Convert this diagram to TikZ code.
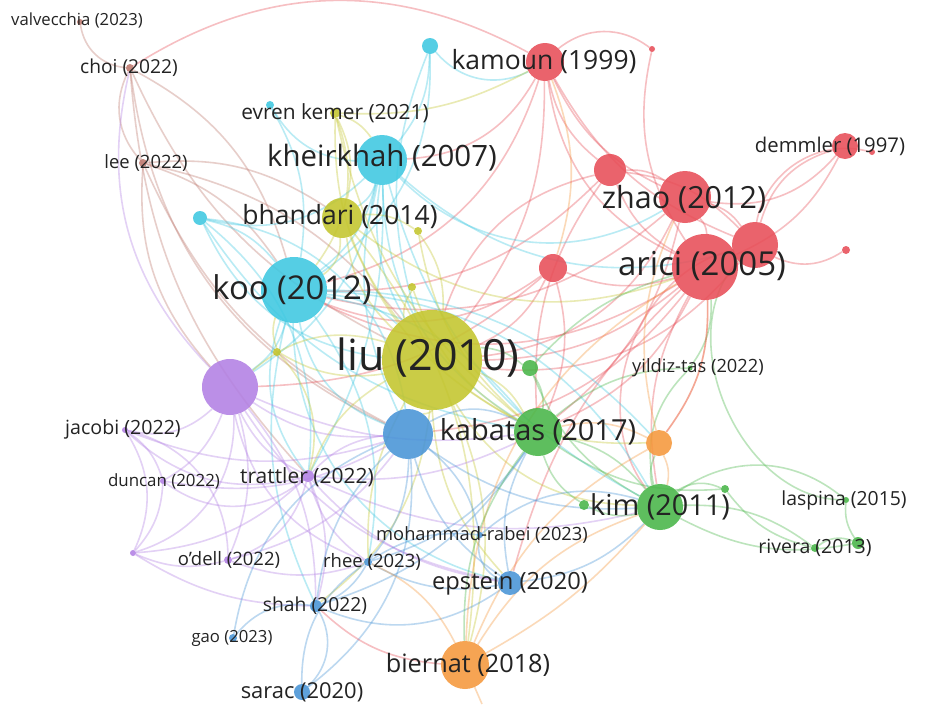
\documentclass[tikz,border=0pt]{standalone}
\usepackage{fontspec}
\setmainfont{Open Sans}
\pgfdeclarelayer{bg}
\pgfsetlayers{bg,main}
\definecolor{rd}{RGB}{232,78,88}
\definecolor{cy}{RGB}{62,200,225}
\definecolor{yl}{RGB}{195,197,45}
\definecolor{gr}{RGB}{72,182,72}
\definecolor{bl}{RGB}{72,148,215}
\definecolor{pu}{RGB}{178,128,228}
\definecolor{or}{RGB}{245,152,60}
\definecolor{br}{RGB}{190,120,110}
\definecolor{txt}{RGB}{35,35,35}
\begin{document}
\begin{tikzpicture}[x=1pt,y=-1pt,
 nd/.style={circle,fill=#1,draw=none,inner sep=0pt,fill opacity=0.88},
 lk/.style={line width=1.6pt,draw opacity=0.36},
 lb/.style={inner sep=0pt,text=txt,font=\fontsize{#1}{#1}\selectfont}]
\useasboundingbox (0,0) rectangle (933,704);
% nodes
\node[nd=br,minimum size=6] (valv) at (80,22) {};
\node[nd=br,minimum size=8] (choi) at (130,68) {};
\node[nd=br,minimum size=8] (lee) at (143,163) {};
\node[nd=cy,minimum size=8] (cyS) at (270,105) {};
\node[nd=yl,minimum size=10] (evren) at (335,113) {};
\node[nd=cy,minimum size=16] (cyT) at (430,46) {};
\node[nd=cy,minimum size=50] (kheir) at (382,160) {};
\node[nd=yl,minimum size=40] (bhan) at (342,218) {};
\node[nd=cy,minimum size=14] (cyL) at (200,218) {};
\node[nd=yl,minimum size=8] (ySm1) at (418,231) {};
\node[nd=rd,minimum size=38] (kamoun) at (545,62) {};
\node[nd=rd,minimum size=6] (rSm1) at (652,49) {};
\node[nd=rd,minimum size=32] (rA) at (610,170) {};
\node[nd=rd,minimum size=52] (zhao) at (685,197) {};
\node[nd=rd,minimum size=26] (demm) at (845,146) {};
\node[nd=rd,minimum size=6] (rSm2) at (872,152) {};
\node[nd=rd,minimum size=46] (rB) at (755,245) {};
\node[nd=rd,minimum size=66] (arici) at (705,267) {};
\node[nd=rd,minimum size=8] (rSm3) at (846,250) {};
\node[nd=rd,minimum size=28] (rC) at (553,268) {};
\node[nd=cy,minimum size=66] (koo) at (294,290) {};
\node[nd=yl,minimum size=8] (ySm2) at (412,287) {};
\node[nd=yl,minimum size=8] (ySm3) at (277,352) {};
\node[nd=yl,minimum size=100] (liu) at (432,360) {};
\node[nd=pu,minimum size=56] (purp) at (230,387) {};
\node[nd=gr,minimum size=16] (gSm1) at (530,368) {};
\node[nd=gr,minimum size=5] (yildiz) at (690,368) {};
\node[nd=pu,minimum size=6] (jacobi) at (125,430) {};
\node[nd=gr,minimum size=48] (kab) at (538,432) {};
\node[nd=bl,minimum size=50] (blue) at (408,434) {};
\node[nd=or,minimum size=26] (orange) at (659,443) {};
\node[nd=pu,minimum size=6] (duncan) at (163,481) {};
\node[nd=pu,minimum size=12] (trat) at (308,476) {};
\node[nd=gr,minimum size=10] (gSm2) at (584,505) {};
\node[nd=gr,minimum size=46] (kim) at (660,507) {};
\node[nd=gr,minimum size=8] (gSm3) at (725,489) {};
\node[nd=gr,minimum size=6] (laspina) at (846,500) {};
\node[nd=gr,minimum size=8] (rivera) at (815,548) {};
\node[nd=gr,minimum size=12] (gSm4) at (858,543) {};
\node[nd=bl,minimum size=6] (mrabei) at (480,535) {};
\node[nd=pu,minimum size=8] (odell) at (228,560) {};
\node[nd=pu,minimum size=6] (pSm) at (133,553) {};
\node[nd=bl,minimum size=8] (rhee) at (368,562) {};
\node[nd=bl,minimum size=24] (epstein) at (510,583) {};
\node[nd=bl,minimum size=12] (shah) at (316,606) {};
\node[nd=bl,minimum size=8] (gao) at (233,638) {};
\node[nd=or,minimum size=48] (biernat) at (465,665) {};
\node[nd=bl,minimum size=16] (sarac) at (302,692) {};
\coordinate (bot) at (482,704);
% links
\begin{pgfonlayer}{bg}
\fill[white] (0,0) rectangle (933,704);
\foreach \a/\b/\c/\d [evaluate=\d as \bb using 1.9*\d] in {
valv/choi/br/-20, choi/kamoun/rd/16, choi/lee/br/-18, choi/purp/pu/-15, choi/liu/br/-10,
choi/trat/br/-10, choi/blue/br/-15, choi/koo/br/12, lee/koo/br/10, lee/liu/br/10, lee/blue/br/-10, lee/bhan/br/10, lee/purp/br/-12,
kamoun/rA/rd/-10, kamoun/zhao/rd/-10, kamoun/arici/rd/-15, kamoun/rB/rd/-10, kamoun/rSm1/rd/20,
kamoun/kheir/rd/15, kamoun/koo/rd/15, kamoun/liu/rd/10, kamoun/rC/or/10, rSm1/arici/rd/-12,
rA/zhao/rd/10, rA/rB/rd/10, rA/arici/rd/-10, rA/liu/rd/-15, rA/kab/rd/-10, rA/koo/rd/12,
zhao/arici/rd/10, zhao/rB/rd/10, zhao/demm/rd/-15, zhao/liu/rd/15, zhao/kab/rd/10, zhao/koo/rd/14,
demm/rB/rd/-15, rSm2/rB/rd/-25, demm/arici/rd/10, rB/rSm3/rd/-15, rB/kim/rd/-30, rB/liu/rd/15,
rB/laspina/gr/-35, arici/liu/rd/10, arici/kab/rd/10, arici/kim/rd/-10, arici/orange/or/10,
arici/rC/rd/10, arici/koo/rd/15, arici/yildiz/gr/10, arici/blue/rd/12, arici/epstein/rd/-8,
rC/liu/rd/10, rC/kab/rd/10, rC/koo/rd/15, rC/purp/rd/10,
cyT/kheir/cy/10, cyT/koo/cy/15, cyT/kamoun/cy/-20, cyT/liu/cy/-10, cyS/kheir/cy/-15, cyS/koo/cy/10,
kheir/koo/cy/10, kheir/liu/cy/-10, kheir/bhan/cy/10, kheir/zhao/cy/-20, kheir/rB/cy/-15, kheir/cyL/cy/15,
kheir/blue/cy/-10, kheir/kab/cy/-15, kheir/purp/cy/12, kheir/trat/cy/8, kheir/kim/cy/-12,
cyL/koo/cy/10, cyL/liu/cy/-15, cyL/blue/cy/20, cyL/trat/cy/15, cyL/kab/cy/-12,
koo/liu/cy/10, koo/blue/cy/-15, koo/kab/cy/10, koo/purp/cy/10, koo/trat/cy/-15, koo/kim/cy/15,
koo/epstein/cy/-20, koo/rhee/cy/12, koo/shah/cy/-10, koo/orange/cy/12,
evren/kheir/yl/10, evren/liu/yl/-10, evren/bhan/yl/10, evren/koo/yl/15, evren/kamoun/yl/-8, evren/kab/yl/-10, bhan/liu/yl/-10,
bhan/koo/yl/15, bhan/kab/yl/-10, bhan/arici/yl/-15, bhan/ySm1/yl/10, bhan/biernat/yl/12, ySm1/liu/yl/10, ySm1/kab/yl/-10,
ySm2/liu/yl/-10, ySm2/kab/yl/-10, ySm3/koo/yl/10, ySm3/liu/yl/-10, ySm3/trat/yl/15, liu/kab/yl/10, liu/blue/yl/10,
liu/kim/yl/-15, liu/purp/yl/-15, liu/biernat/yl/10, liu/epstein/yl/-10, liu/trat/yl/-10, liu/rhee/yl/-8, liu/shah/yl/12, liu/orange/yl/-10,
purp/jacobi/pu/15, purp/duncan/pu/10, purp/trat/pu/-10, purp/odell/pu/10, purp/pSm/pu/20,
purp/blue/pu/-10, purp/rhee/pu/-15, purp/shah/pu/10, purp/kab/pu/-8, purp/epstein/pu/-12, jacobi/duncan/pu/10, jacobi/trat/pu/-15,
jacobi/pSm/pu/15, jacobi/odell/pu/20, jacobi/blue/pu/-10, duncan/trat/pu/-20, duncan/pSm/pu/10, duncan/blue/pu/-10, pSm/trat/pu/-10,
pSm/odell/pu/-10, pSm/shah/pu/-8, odell/trat/pu/-15, odell/rhee/pu/-10, odell/blue/pu/-10, trat/blue/pu/10, trat/rhee/pu/-10, trat/shah/pu/10,
trat/kab/pu/-8, trat/epstein/pu/-10, trat/kim/pu/-10,
blue/rhee/bl/10, blue/shah/bl/-10, blue/mrabei/bl/10, blue/epstein/bl/-10, blue/kab/bl/15,
blue/sarac/bl/15, blue/gao/bl/-15, blue/kim/bl/-10, rhee/shah/bl/10, rhee/epstein/bl/-10, rhee/mrabei/bl/10,
rhee/sarac/bl/-15, rhee/kab/bl/-10, shah/gao/bl/-15, shah/sarac/bl/20, shah/epstein/bl/-15, shah/kab/bl/-10, mrabei/kim/bl/15,
mrabei/epstein/bl/-20, epstein/kab/bl/10, epstein/kim/bl/-10,
gSm1/kab/gr/10, gSm1/liu/gr/-10, gSm1/kim/gr/-10, gSm1/arici/gr/8, kab/kim/gr/10, kab/gSm2/gr/-10,
kab/orange/or/10, kab/gSm3/gr/-10, kab/yildiz/gr/10, kim/gSm2/gr/10, kim/gSm3/gr/15,
kim/laspina/gr/20, kim/rivera/gr/10, kim/gSm4/gr/-10, kim/orange/gr/10, kim/yildiz/gr/15,
laspina/gSm4/gr/-10, rivera/gSm4/gr/15, gSm3/rivera/gr/-10,
biernat/kim/or/10, biernat/kim/or/-5, biernat/orange/or/10, biernat/arici/or/15,
biernat/rhee/or/-10, biernat/shah/rd/10, biernat/kab/gr/10, orange/zhao/or/10,
orange/arici/rd/-10, orange/kim/or/10, biernat/bot/or/0}
{\draw[lk,draw=\c] (\a) to[bend left=\bb] (\b);}
\end{pgfonlayer}
% labels
\node[lb=16.7] (t-valv) at (77,20) {valvecchia (2023)};
\node[lb=19.2] (t-choi) at (129,68) {choi (2022)};
\node[lb=18.4] (t-lee) at (146,163) {lee (2022)};
\node[lb=20.9] (t-evren) at (335,113) {evren kemer (2021)};
\node[lb=29.4] (t-kheir) at (382,158) {kheirkhah (2007)};
\node[lb=26.5] (t-bhan) at (340,217) {bhandari (2014)};
\node[lb=26.5] (t-kamoun) at (544,62) {kamoun (1999)};
\node[lb=20.3] (t-demm) at (830,146) {demmler (1997)};
\node[lb=30.5] (t-zhao) at (684,199) {zhao (2012)};
\node[lb=33] (t-arici) at (702,266) {arici (2005)};
\node[lb=32.8] (t-koo) at (292,290) {koo (2012)};
\node[lb=43] (t-liu) at (428,358) {liu (2010)};
\node[lb=18.3] (t-yildiz) at (698,368) {yildiz-tas (2022)};
\node[lb=19.6] (t-jacobi) at (123,429) {jacobi (2022)};
\node[lb=29] (t-kab) at (538,432) {kabatas (2017)};
\node[lb=16.9] (t-duncan) at (164,481) {duncan (2022)};
\node[lb=21] (t-trat) at (307,477) {trattler (2022)};
\node[lb=28.8] (t-kim) at (660,507) {kim (2011)};
\node[lb=19.4] (t-laspina) at (844,500) {laspina (2015)};
\node[lb=19.5] (t-rivera) at (815,548) {rivera (2013)};
\node[lb=18.3] (t-mrabei) at (482,535) {mohammad-rabei (2023)};
\node[lb=18.5] (t-odell) at (229,560) {o'dell (2022)};
\node[lb=18.5] (t-rhee) at (372,562) {rhee (2023)};
\node[lb=23.7] (t-epstein) at (510,584) {epstein (2020)};
\node[lb=19.3] (t-shah) at (315,606) {shah (2022)};
\node[lb=16.7] (t-gao) at (232,638) {gao (2023)};
\node[lb=25.3] (t-biernat) at (468,665) {biernat (2018)};
\node[lb=21.9] (t-sarac) at (302,692) {sarac (2020)};
\end{tikzpicture}
\end{document}
